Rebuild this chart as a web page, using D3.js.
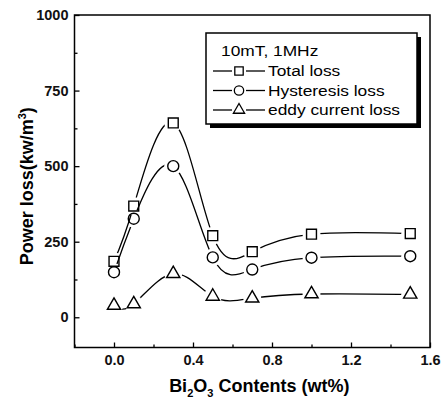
<!DOCTYPE html>
<html>
<head>
<meta charset="utf-8">
<script src="https://cdn.jsdelivr.net/npm/d3@7"></script>
<style>
  body { margin: 0; background: #fff; }
  svg { display: block; font-family: "Liberation Sans", Arial, sans-serif; }
</style>
</head>
<body>
<div id="chart"></div>
<script>
// Bi2O3 content (wt%) and the three loss series (kW/m3)
const contents = [0, 0.1, 0.3, 0.5, 0.7, 1.0, 1.5];
const totalLoss = [185, 368, 643, 270, 217, 275, 277];
const hysteresisLoss = [149, 326, 500, 198, 158, 197, 202];
const eddyLoss = [39, 44, 144, 69, 63, 77, 76];

const seriesNames = ['Total loss', 'Hysteresis loss', 'eddy current loss'];
const xTicks = [0, 0.4, 0.8, 1.2, 1.6];
const xMinor = [-0.2, 0.2, 0.6, 1.0, 1.4];
const yTicks = [0, 250, 500, 750, 1000];
const yMinor = [125, 375, 625, 875];
const legendTitle = '10mT, 1MHz';

const width = 447, height = 401;
const plot = {left: 74.5, top: 15, right: 430, bottom: 347.5};

const svg = d3.select('#chart').append('svg')
    .attr('width', width)
    .attr('height', height);

const x = d3.scaleLinear().domain([-0.2, 1.6]).range([plot.left, plot.right]);
const y = d3.scaleLinear().domain([-100, 1000]).range([plot.bottom, plot.top]);

const symbols = [d3.symbolSquare, d3.symbolCircle, d3.symbolTriangle];
const symbolSizes = [98, 95, 76];
const seriesData = [totalLoss, hysteresisLoss, eddyLoss];

// axes, ticks pointing inward
svg.append('g')
    .attr('transform', `translate(0,${plot.bottom})`)
    .call(d3.axisBottom(x).tickValues(xTicks).tickSize(-5).tickSizeOuter(0)
        .tickPadding(7).tickFormat(d3.format('.1f')));
svg.append('g')
    .attr('transform', `translate(0,${plot.bottom})`)
    .call(d3.axisBottom(x).tickValues(xMinor).tickSize(-3).tickSizeOuter(0).tickFormat(''));

svg.append('g')
    .attr('transform', `translate(${plot.left},0)`)
    .call(d3.axisLeft(y).tickValues(yTicks).tickSize(-5).tickSizeOuter(0)
        .tickPadding(6).tickFormat(d3.format('d')));
svg.append('g')
    .attr('transform', `translate(${plot.left},0)`)
    .call(d3.axisLeft(y).tickValues(yMinor).tickSize(-3).tickSizeOuter(0).tickFormat(''));

svg.selectAll('.domain').remove();
svg.selectAll('.tick line').attr('stroke', '#000').attr('stroke-width', 1.3);
svg.selectAll('.tick text')
    .attr('font-size', 14.5)
    .attr('font-weight', 'bold')
    .attr('font-family', '"Liberation Sans", Arial, sans-serif')
    .attr('fill', '#111');

// frame
svg.append('rect')
    .attr('x', plot.left).attr('y', plot.top)
    .attr('width', plot.right - plot.left)
    .attr('height', plot.bottom - plot.top)
    .attr('fill', 'none')
    .attr('stroke', '#000')
    .attr('stroke-width', 1.5);

// axis titles
const xTitle = svg.append('text')
    .attr('x', (plot.left + plot.right) / 2 + 7)
    .attr('y', 392)
    .attr('text-anchor', 'middle')
    .attr('font-size', 18)
    .attr('font-weight', 'bold');
xTitle.append('tspan').text('Bi');
xTitle.append('tspan').attr('dy', 5).attr('font-size', 11).text('2');
xTitle.append('tspan').attr('dy', -5).text('O');
xTitle.append('tspan').attr('dy', 5).attr('font-size', 11).text('3');
xTitle.append('tspan').attr('dy', -5).text(' Contents (wt%)');

const yTitle = svg.append('text')
    .attr('transform', `translate(33,${(plot.top + plot.bottom) / 2 + 5}) rotate(-90)`)
    .attr('text-anchor', 'middle')
    .attr('font-size', 18)
    .attr('font-weight', 'bold');
yTitle.append('tspan').text('Power loss(kw/m');
yTitle.append('tspan').attr('dy', -7).attr('font-size', 11).text('3');
yTitle.append('tspan').attr('dy', 7).text(')');

// curves broken around their markers (Origin style)
const line = d3.line()
    .x((d, i) => x(contents[i]))
    .y(d => y(d))
    .curve(d3.curveNatural);

const defs = svg.append('defs');
seriesData.forEach((values, s) => {
    const mask = defs.append('mask').attr('id', 'gap' + s)
        .attr('maskUnits', 'userSpaceOnUse')
        .attr('x', 0).attr('y', 0).attr('width', width).attr('height', height);
    mask.append('rect').attr('width', width).attr('height', height).attr('fill', '#fff');
    mask.selectAll('circle').data(values).join('circle')
        .attr('cx', (d, i) => x(contents[i]))
        .attr('cy', d => y(d))
        .attr('r', 9)
        .attr('fill', '#000');

    svg.append('path')
        .attr('d', line(values))
        .attr('fill', 'none')
        .attr('stroke', '#000')
        .attr('stroke-width', 1.3)
        .attr('mask', `url(#gap${s})`);

    svg.append('g').selectAll('path').data(values).join('path')
        .attr('transform', (d, i) => `translate(${x(contents[i])},${y(d)})`)
        .attr('d', d3.symbol(symbols[s], symbolSizes[s]))
        .attr('fill', 'none')
        .attr('stroke', '#000')
        .attr('stroke-width', 1.4);
});

// legend with drop shadow
const lg = {x: 206, y: 33, w: 211, h: 91};
svg.append('rect')
    .attr('x', lg.x + 4).attr('y', lg.y + 4)
    .attr('width', lg.w).attr('height', lg.h)
    .attr('fill', '#000');
svg.append('rect')
    .attr('x', lg.x).attr('y', lg.y)
    .attr('width', lg.w).attr('height', lg.h)
    .attr('fill', '#fff')
    .attr('stroke', '#000')
    .attr('stroke-width', 1.5);

// the scanned lettering is a bit wider than Arial, so stretch it slightly
svg.append('text')
    .attr('transform', 'translate(221,56) scale(1.12,1)')
    .attr('font-size', 15.5)
    .text(legendTitle);

seriesNames.forEach((name, s) => {
    const yy = 76 + s * 19.5;
    const g = svg.append('g');
    g.append('line').attr('x1', 213).attr('x2', 232).attr('y1', yy - 5).attr('y2', yy - 5)
        .attr('stroke', '#000').attr('stroke-width', 1.3);
    g.append('line').attr('x1', 246).attr('x2', 265).attr('y1', yy - 5).attr('y2', yy - 5)
        .attr('stroke', '#000').attr('stroke-width', 1.3);
    g.append('path')
        .attr('transform', `translate(239,${yy - 5})`)
        .attr('d', d3.symbol(symbols[s], symbolSizes[s] * 0.72))
        .attr('fill', 'none')
        .attr('stroke', '#000')
        .attr('stroke-width', 1.3);
    g.append('text')
        .attr('transform', `translate(268,${yy}) scale(1.12,1)`)
        .attr('font-size', 15.5)
        .text(name);
});
</script>
</body>
</html>
